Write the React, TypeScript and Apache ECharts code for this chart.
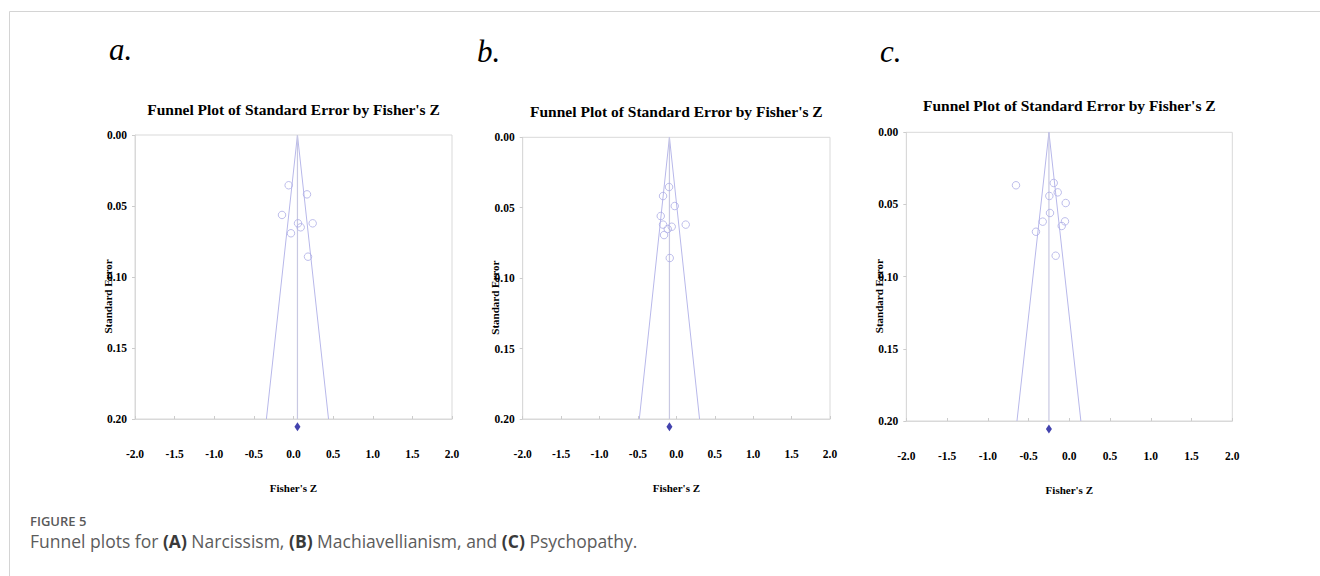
import React, { useEffect, useRef } from "react";
import * as echarts from "echarts";

// ---- data ----
const panelLetters = ["a.", "b.", "c."];
const chartTitle = "Funnel Plot of Standard Error by Fisher's Z";
const xName = "Fisher's Z";
const yName = "Standard Error";

const narcZ = [-0.061, 0.17, -0.145, 0.057, 0.242, 0.091, -0.032, 0.183];
const narcSE = [0.0354, 0.0418, 0.0563, 0.0622, 0.0622, 0.065, 0.0692, 0.0857];
const narcMean = 0.05;

const machZ = [-0.095, -0.173, -0.021, -0.203, -0.173, 0.122, -0.06, -0.112, -0.16, -0.086];
const machSE = [0.0353, 0.0417, 0.0488, 0.0559, 0.062, 0.062, 0.0635, 0.0651, 0.0694, 0.0857];
const machMean = -0.09;

const psyZ = [-0.654, -0.191, -0.142, -0.245, -0.044, -0.237, -0.326, -0.053, -0.093, -0.409, -0.167];
const psySE = [0.0367, 0.0351, 0.0416, 0.0441, 0.049, 0.0559, 0.0619, 0.0617, 0.0649, 0.0689, 0.0855];
const psyMean = -0.25;

const seMax = 0.2;
const diamondSE = 0.2055;
const zMin = -2;
const zMax = 2;

const captionHead = "FIGURE 5";

// ---- layout ----
const grids = [
  { left: 135, top: 135, width: 317, height: 284 },
  { left: 522.7, top: 137.3, width: 307.3, height: 281.7 },
  { left: 906.3, top: 132.3, width: 326, height: 288.7 },
];
const titleY = [109, 111, 105];
const letterPos = [
  { x: 109, y: 65 },
  { x: 477, y: 66.5 },
  { x: 880, y: 66.5 },
];

const SERIF = "'Liberation Serif', 'Times New Roman', serif";
const SANS = "'Open Sans', 'Noto Sans', sans-serif";

export default function App() {
  const ref = useRef<HTMLDivElement>(null);

  useEffect(() => {
    if (!ref.current) return;
    const chart = echarts.init(ref.current, null, { renderer: "svg" });

    const panels = [
      { z: narcZ, se: narcSE, mean: narcMean },
      { z: machZ, se: machSE, mean: machMean },
      { z: psyZ, se: psySE, mean: psyMean },
    ];

    const series: any[] = [];
    panels.forEach((p, i) => {
      series.push({
        type: "line",
        xAxisIndex: i,
        yAxisIndex: i,
        data: [
          [p.mean - 1.96 * seMax, seMax],
          [p.mean, 0],
          [p.mean + 1.96 * seMax, seMax],
        ],
        symbol: "none",
        lineStyle: { color: "#b8b8ea", width: 1 },
        silent: true,
        z: 2,
      });
      series.push({
        type: "line",
        xAxisIndex: i,
        yAxisIndex: i,
        data: [
          [p.mean, 0],
          [p.mean, seMax],
        ],
        symbol: "none",
        lineStyle: { color: "#c8c8e2", width: 1.2 },
        silent: true,
        z: 2,
      });
      series.push({
        type: "scatter",
        xAxisIndex: i,
        yAxisIndex: i,
        data: p.z.map((v, k) => [v, p.se[k]]),
        symbol: "circle",
        symbolSize: 7.5,
        itemStyle: { color: "rgba(255,255,255,0)", borderColor: "#aeaee6", borderWidth: 1 },
        z: 3,
      });
      series.push({
        type: "scatter",
        xAxisIndex: i,
        yAxisIndex: i,
        data: [[p.mean, diamondSE]],
        symbol: "diamond",
        symbolSize: [6, 9],
        clip: false,
        itemStyle: { color: "#14149a" },
        z: 4,
      });
    });

    const graphics: any[] = [];
    // frame
    graphics.push({
      type: "line",
      shape: { x1: 9.5, y1: 11.5, x2: 1320, y2: 11.5 },
      style: { stroke: "#d4d4d4", lineWidth: 1 },
    });
    graphics.push({
      type: "line",
      shape: { x1: 9.5, y1: 11.5, x2: 9.5, y2: 576 },
      style: { stroke: "#d4d4d4", lineWidth: 1 },
    });

    grids.forEach((g, i) => {
      const cx = g.left + g.width / 2;
      graphics.push({
        type: "text",
        x: letterPos[i].x,
        y: letterPos[i].y,
        style: {
          text: panelLetters[i],
          font: `italic 31px ${SERIF}`,
          fill: "#000",
          textAlign: "left",
          textVerticalAlign: "bottom",
        },
      });
      graphics.push({
        type: "text",
        x: cx,
        y: titleY[i],
        style: {
          text: chartTitle,
          font: `bold 15.5px ${SERIF}`,
          fill: "#000",
          textAlign: "center",
          textVerticalAlign: "middle",
        },
      });
      graphics.push({
        type: "text",
        x: g.left - 27.5,
        y: g.top + g.height / 2 + 19.5,
        rotation: Math.PI / 2,
        style: {
          text: yName,
          font: `bold 11px ${SERIF}`,
          fill: "#000",
          textAlign: "center",
          textVerticalAlign: "middle",
        },
        z: 10,
      });
      graphics.push({
        type: "text",
        x: cx,
        y: g.top + g.height + 69,
        style: {
          text: xName,
          font: `bold 11px ${SERIF}`,
          fill: "#000",
          textAlign: "center",
          textVerticalAlign: "middle",
        },
      });
    });

    graphics.push({
      type: "text",
      x: 30,
      y: 521,
      style: {
        text: captionHead,
        font: `600 13px ${SANS}`,
        fill: "#5a5a5a",
        textAlign: "left",
        textVerticalAlign: "middle",
      },
    });
    graphics.push({
      type: "text",
      x: 30,
      y: 541,
      style: {
        text:
          "Funnel plots for {b|(A)} Narcissism, {b|(B)} Machiavellianism, and {b|(C)} Psychopathy.",
        font: `17.5px ${SANS}`,
        fill: "#5c5c5c",
        textAlign: "left",
        textVerticalAlign: "middle",
        rich: {
          b: { font: `bold 17.5px ${SANS}`, fill: "#3a3a3a" },
        },
      },
    });

    chart.setOption({
      animation: false,
      backgroundColor: "#fff",
      grid: grids.map((g) => ({
        ...g,
        show: true,
        borderColor: "#d9d9d9",
        borderWidth: 1,
        backgroundColor: "transparent",
      })),
      xAxis: grids.map((_, i) => ({
        type: "value",
        gridIndex: i,
        min: zMin,
        max: zMax,
        interval: 0.5,
        axisLine: { show: true, onZero: false, lineStyle: { color: "#d9d9d9" } },
        axisTick: { show: true, inside: true, length: 3, lineStyle: { color: "#cccccc" } },
        splitLine: { show: false },
        axisLabel: {
          margin: 29,
          fontFamily: SERIF,
          fontWeight: "bold",
          fontSize: 11.5,
          color: "#000",
          formatter: (v: number) => v.toFixed(1),
        },
      })),
      yAxis: grids.map((_, i) => ({
        type: "value",
        gridIndex: i,
        inverse: true,
        min: 0,
        max: seMax,
        interval: 0.05,
        axisLine: { show: true, onZero: false, lineStyle: { color: "#d9d9d9" } },
        axisTick: { show: true, length: 3, lineStyle: { color: "#cccccc" } },
        splitLine: { show: false },
        axisLabel: {
          margin: 8,
          fontFamily: SERIF,
          fontWeight: "bold",
          fontSize: 11.5,
          color: "#000",
          formatter: (v: number) => v.toFixed(2),
        },
      })),
      series,
      graphic: graphics,
    });

    return () => chart.dispose();
  }, []);

  return (
    <div
      ref={ref}
      style={{ position: "fixed", left: 0, top: 0, width: 1320, height: 576 }}
    />
  );
}
